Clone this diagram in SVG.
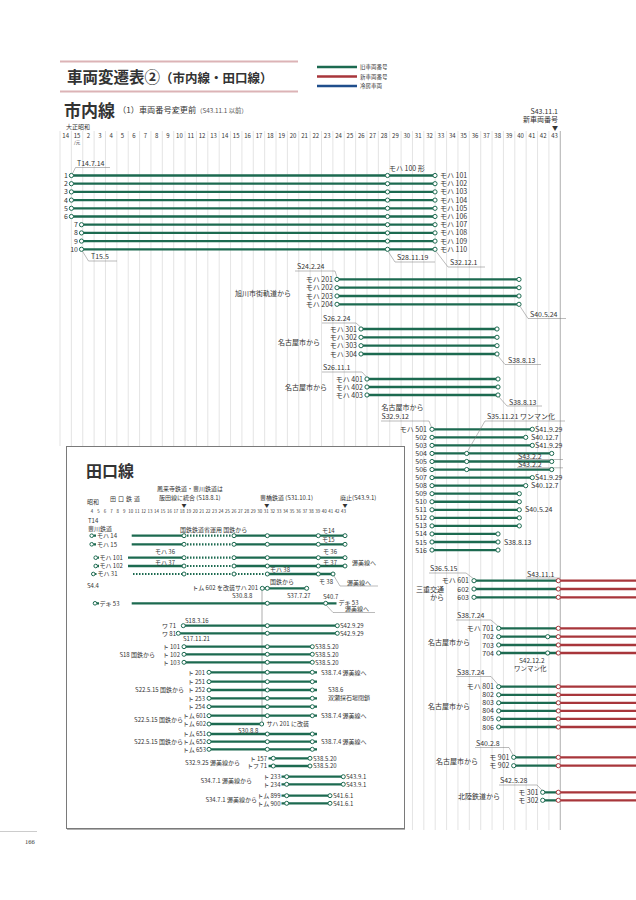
<svg xmlns="http://www.w3.org/2000/svg" width="636" height="900" viewBox="0 0 636 900">
<style>
text{font-family:"Noto Sans CJK JP","Noto Sans",sans-serif;fill:#333}
.s{font-size:7px}
.xs{font-size:6px}
.xxs{font-size:4.4px}
.e{text-anchor:end}
.m{text-anchor:middle}
.grid line{stroke:#d2d2d2;stroke-width:0.6}
.gl{stroke:#1c6a50;stroke-width:2.3;fill:none}
.gd{stroke:#1c6a50;stroke-width:2.2;stroke-dasharray:1.5 1.5;fill:none}
.rl{stroke:#a8363b;stroke-width:2.3;fill:none}
.c{fill:#fff;stroke:#1c6a50;stroke-width:1}
.cr{fill:#fff;stroke:#a8363b;stroke-width:1}
.ld{stroke:#777;stroke-width:0.5;fill:none}
</style>
<rect width="636" height="900" fill="#fff"/>

<g id="header">
<line x1="60" y1="61.5" x2="298" y2="61.5" stroke="#dcb3b6" stroke-width="2.2"/>
<line x1="60" y1="91.5" x2="298" y2="91.5" stroke="#dcb3b6" stroke-width="2.2"/>
<text x="67" y="83" style="font-size:15.5px;font-weight:700">車両変遷表②<tspan style="font-size:12.5px">（市内線・田口線）</tspan></text>
</g>
<g id="legend">
<line x1="317" y1="67" x2="357" y2="67" class="gl"/>
<line x1="317" y1="76.5" x2="357" y2="76.5" class="rl"/>
<line x1="317" y1="86" x2="357" y2="86" stroke="#1f4e8c" stroke-width="2.3"/>
<text x="360" y="69" style="font-size:5.5px">旧車両番号</text>
<text x="360" y="78.5" style="font-size:5.5px">新車両番号</text>
<text x="360" y="88" style="font-size:5.5px">冷房車両</text>
</g>

<g id="subtitle">
<text x="64" y="117" style="font-size:17px;font-weight:700">市内線</text>
<text x="118" y="113" style="font-size:8.2px">（1）車両番号変更前<tspan style="font-size:6.3px" fill="#555">（S43.11.1 以前）</tspan></text>
<text x="558" y="114" class="s e">S43.11.1</text>
<text x="558" y="122" class="s e">新車両番号</text>
<text x="555" y="130" class="m" style="font-size:6px">▼</text>
<text x="66" y="128.5" class="xs">大正昭和</text>
</g>

<g class="grid" id="grid">
<line x1="60" y1="131" x2="60" y2="446"/><line x1="71.37" y1="131" x2="71.37" y2="830"/><line x1="82.74" y1="131" x2="82.74" y2="830"/><line x1="94.11" y1="131" x2="94.11" y2="830"/><line x1="105.48" y1="131" x2="105.48" y2="830"/><line x1="116.85" y1="131" x2="116.85" y2="830"/><line x1="128.22" y1="131" x2="128.22" y2="830"/><line x1="139.59" y1="131" x2="139.59" y2="830"/><line x1="150.96" y1="131" x2="150.96" y2="830"/><line x1="162.33" y1="131" x2="162.33" y2="830"/><line x1="173.7" y1="131" x2="173.7" y2="830"/><line x1="185.07" y1="131" x2="185.07" y2="830"/><line x1="196.44" y1="131" x2="196.44" y2="830"/><line x1="207.81" y1="131" x2="207.81" y2="830"/><line x1="219.18" y1="131" x2="219.18" y2="830"/><line x1="230.55" y1="131" x2="230.55" y2="830"/><line x1="241.92" y1="131" x2="241.92" y2="830"/><line x1="253.29" y1="131" x2="253.29" y2="830"/><line x1="264.66" y1="131" x2="264.66" y2="830"/><line x1="276.03" y1="131" x2="276.03" y2="830"/><line x1="287.4" y1="131" x2="287.4" y2="830"/><line x1="298.77" y1="131" x2="298.77" y2="830"/><line x1="310.14" y1="131" x2="310.14" y2="830"/><line x1="321.51" y1="131" x2="321.51" y2="830"/><line x1="332.88" y1="131" x2="332.88" y2="830"/><line x1="344.25" y1="131" x2="344.25" y2="830"/><line x1="355.62" y1="131" x2="355.62" y2="830"/><line x1="366.99" y1="131" x2="366.99" y2="830"/><line x1="378.36" y1="131" x2="378.36" y2="830"/><line x1="389.73" y1="131" x2="389.73" y2="830"/><line x1="401.1" y1="131" x2="401.1" y2="830"/><line x1="412.47" y1="131" x2="412.47" y2="830"/><line x1="423.84" y1="131" x2="423.84" y2="830"/><line x1="435.21" y1="131" x2="435.21" y2="830"/><line x1="446.58" y1="131" x2="446.58" y2="830"/><line x1="457.95" y1="131" x2="457.95" y2="830"/><line x1="469.32" y1="131" x2="469.32" y2="830"/><line x1="480.69" y1="131" x2="480.69" y2="830"/><line x1="492.06" y1="131" x2="492.06" y2="830"/><line x1="503.43" y1="131" x2="503.43" y2="830"/><line x1="514.8" y1="131" x2="514.8" y2="830"/><line x1="526.17" y1="131" x2="526.17" y2="830"/><line x1="537.54" y1="131" x2="537.54" y2="830"/><line x1="548.91" y1="131" x2="548.91" y2="830"/>
<line x1="560.28" y1="131" x2="560.28" y2="830" style="stroke:#9a9a9a;stroke-width:0.8"/>
</g>

<g id="years">
<text y="138" class="xs m"><tspan x="65.7">14</tspan><tspan x="77.1">15</tspan><tspan x="88.4">2</tspan><tspan x="99.8">3</tspan><tspan x="111.2">4</tspan><tspan x="122.5">5</tspan><tspan x="133.9">6</tspan><tspan x="145.3">7</tspan><tspan x="156.6">8</tspan><tspan x="168">9</tspan><tspan x="179.4">10</tspan><tspan x="190.8">11</tspan><tspan x="202.1">12</tspan><tspan x="213.5">13</tspan><tspan x="224.9">14</tspan><tspan x="236.2">15</tspan><tspan x="247.6">16</tspan><tspan x="259">17</tspan><tspan x="270.3">18</tspan><tspan x="281.7">19</tspan><tspan x="293.1">20</tspan><tspan x="304.5">21</tspan><tspan x="315.8">22</tspan><tspan x="327.2">23</tspan><tspan x="338.6">24</tspan><tspan x="349.9">25</tspan><tspan x="361.3">26</tspan><tspan x="372.7">27</tspan><tspan x="384">28</tspan><tspan x="395.4">29</tspan><tspan x="406.8">30</tspan><tspan x="418.2">31</tspan><tspan x="429.5">32</tspan><tspan x="440.9">33</tspan><tspan x="452.3">34</tspan><tspan x="463.6">35</tspan><tspan x="475">36</tspan><tspan x="486.4">37</tspan><tspan x="497.7">38</tspan><tspan x="509.1">39</tspan><tspan x="520.5">40</tspan><tspan x="531.9">41</tspan><tspan x="543.2">42</tspan><tspan x="554.6">43</tspan></text>
<text x="77.1" y="144" class="m" style="font-size:4.5px">/元</text>
</g>

<g id="connectors">
<path class="gl" d="M71.4 175.5H435M71.4 183.7H435M71.4 191.9H435M71.4 200.1H435M71.4 208.3H435M71.4 216.5H435M81.5 224.7H435M81.5 232.9H435M81.5 241.1H435M81.5 249.3H435"/>
<path class="gl" d="M337 279.4H519M337 287.7H519M337 296H519M337 304.3H519"/>
<path class="gl" d="M361 329H497M361 337.3H497M361 345.7H497M361 354H497"/>
<path class="gl" d="M367 379H498M367 387H498M367 395H498"/>
<path class="gl" d="M432 429.3H532.3M432 437.35H525.7M432 445.4H532.3M432 453.45H551.7M432 461.5H551.7M432 469.55H551.7M432 477.6H532.3M432 485.65H525.7M432 493.7H519.3M432 501.75H519.3M432 509.8H519.3M432 517.85H519.3M432 525.9H519.3M432 533.95H498M432 542H498M432 550.05H498"/>
<path class="gl" d="M474 580.7H558.3M474 589H558.3M474 597.3H558.3M498.7 628.3H558.3M498.7 636.7H558.3M498.7 645H558.3M498.7 653H558.3M498.7 686.7H558.3M498.7 694.8H558.3M498.7 702.8H558.3M498.7 710.9H558.3M498.7 718.9H558.3M498.7 727H558.3M513.7 757.3H558.3M513.7 765.7H558.3M542.7 792.3H558.3M542.7 800.3H558.3"/>
<path class="rl" d="M558.3 580.7H636M558.3 589H636M558.3 597.3H636M558.3 628.3H636M558.3 636.7H636M558.3 645H636M558.3 653H636M558.3 686.7H636M558.3 694.8H636M558.3 702.8H636M558.3 710.9H636M558.3 718.9H636M558.3 727H636M558.3 757.3H636M558.3 765.7H636M558.3 792.3H636M558.3 800.3H636"/>
<path class="ld" d="M72.5 173.5L75.5 167.5H110"/>
<path class="ld" d="M82.5 251.3L88.5 261H117"/>
<path class="ld" d="M388 251.3L395 262H435"/>
<path class="ld" d="M436 251.3L448 267H485"/>
<path class="ld" d="M337 277.3L335 271H295"/>
<path class="ld" d="M520 306.3L528 318.5H566"/>
<path class="ld" d="M360.5 327L356 323H322"/>
<path class="ld" d="M498 356L505 364.5H541"/>
<path class="ld" d="M366.5 377L362 372H322"/>
<path class="ld" d="M499 397L507 406H542"/>
<path class="ld" d="M431.5 427.3L429 421H381"/>
<path class="ld" d="M467.5 451.4L485 421H565"/>
<path class="ld" d="M517 459.5H563M517 467.8H563"/>
<path class="ld" d="M473.5 578.7L466 573H429"/>
<path class="ld" d="M526 578H560"/>
<path class="ld" d="M498.2 626.3L491 620H456"/>
<path class="ld" d="M498.2 684.7L491 676.5H456"/>
<path class="ld" d="M513.2 755.3L509 747.5H475"/>
<path class="ld" d="M542.2 790.3L537 785H499"/>
</g>

<g id="nodes-100">
<text x="68" y="178" class="s e">1</text>
<text x="68" y="186.2" class="s e">2</text><text x="68" y="194.4" class="s e">3</text><text x="68" y="202.6" class="s e">4</text><text x="68" y="210.8" class="s e">5</text><text x="68" y="219" class="s e">6</text>
<text x="78" y="227.2" class="s e">7</text><text x="78" y="235.4" class="s e">8</text><text x="78" y="243.6" class="s e">9</text><text x="78" y="251.8" class="s e">10</text>
<g>
<circle class="c" cx="71.4" cy="175.5" r="2.1"/><circle class="c" cx="71.4" cy="183.7" r="2.1"/><circle class="c" cx="71.4" cy="191.9" r="2.1"/><circle class="c" cx="71.4" cy="200.1" r="2.1"/><circle class="c" cx="71.4" cy="208.3" r="2.1"/><circle class="c" cx="71.4" cy="216.5" r="2.1"/><circle class="c" cx="81.5" cy="224.7" r="2.1"/><circle class="c" cx="81.5" cy="232.9" r="2.1"/><circle class="c" cx="81.5" cy="241.1" r="2.1"/><circle class="c" cx="81.5" cy="249.3" r="2.1"/>
<circle class="c" cx="387.5" cy="175.5" r="2.1"/><circle class="c" cx="387.5" cy="183.7" r="2.1"/><circle class="c" cx="387.5" cy="191.9" r="2.1"/><circle class="c" cx="387.5" cy="200.1" r="2.1"/><circle class="c" cx="387.5" cy="208.3" r="2.1"/><circle class="c" cx="387.5" cy="216.5" r="2.1"/><circle class="c" cx="387.5" cy="224.7" r="2.1"/><circle class="c" cx="387.5" cy="232.9" r="2.1"/><circle class="c" cx="387.5" cy="241.1" r="2.1"/><circle class="c" cx="387.5" cy="249.3" r="2.1"/>
<circle class="c" cx="435" cy="175.5" r="2.1"/><circle class="c" cx="435" cy="183.7" r="2.1"/><circle class="c" cx="435" cy="191.9" r="2.1"/><circle class="c" cx="435" cy="200.1" r="2.1"/><circle class="c" cx="435" cy="208.3" r="2.1"/><circle class="c" cx="435" cy="216.5" r="2.1"/><circle class="c" cx="435" cy="224.7" r="2.1"/><circle class="c" cx="435" cy="232.9" r="2.1"/><circle class="c" cx="435" cy="241.1" r="2.1"/><circle class="c" cx="435" cy="249.3" r="2.1"/>
</g>
<text x="440" y="178" class="s">モハ 101</text><text x="440" y="186.2" class="s">モハ 102</text><text x="440" y="194.4" class="s">モハ 103</text><text x="440" y="202.6" class="s">モハ 104</text><text x="440" y="210.8" class="s">モハ 105</text><text x="440" y="219" class="s">モハ 106</text><text x="440" y="227.2" class="s">モハ 107</text><text x="440" y="235.4" class="s">モハ 108</text><text x="440" y="243.6" class="s">モハ 109</text><text x="440" y="251.8" class="s">モハ 110</text>
<text x="389" y="171" class="s">モハ 100 形</text>
<text x="77" y="165.5" class="s">T14.7.14</text>
<text x="91" y="259" class="s">T15.5</text>
<text x="397" y="260" class="s">S28.11.19</text>
<text x="450" y="265" class="s">S32.12.1</text>
</g>

<g id="nodes-200">
<circle class="c" cx="337" cy="279.4" r="2.1"/><circle class="c" cx="337" cy="287.7" r="2.1"/><circle class="c" cx="337" cy="296" r="2.1"/><circle class="c" cx="337" cy="304.3" r="2.1"/>
<circle class="c" cx="519" cy="279.4" r="2.1"/><circle class="c" cx="519" cy="287.7" r="2.1"/><circle class="c" cx="519" cy="296" r="2.1"/><circle class="c" cx="519" cy="304.3" r="2.1"/>
<text x="333" y="281.9" class="s e">モハ 201</text><text x="333" y="290.2" class="s e">モハ 202</text><text x="333" y="298.5" class="s e">モハ 203</text><text x="333" y="306.8" class="s e">モハ 204</text>
<text x="235" y="295.5" class="s">旭川市街軌道から</text>
<text x="297" y="269" class="s">S24.2.24</text>
<text x="530" y="316.8" class="s">S40.5.24</text>
</g>

<g id="nodes-300">
<circle class="c" cx="361" cy="329" r="2.1"/><circle class="c" cx="361" cy="337.3" r="2.1"/><circle class="c" cx="361" cy="345.7" r="2.1"/><circle class="c" cx="361" cy="354" r="2.1"/>
<circle class="c" cx="497" cy="329" r="2.1"/><circle class="c" cx="497" cy="337.3" r="2.1"/><circle class="c" cx="497" cy="345.7" r="2.1"/><circle class="c" cx="497" cy="354" r="2.1"/>
<text x="357" y="331.5" class="s e">モハ 301</text><text x="357" y="339.8" class="s e">モハ 302</text><text x="357" y="348.2" class="s e">モハ 303</text><text x="357" y="356.5" class="s e">モハ 304</text>
<text x="320" y="344.5" class="s e">名古屋市から</text>
<text x="323" y="321" class="s">S26.2.24</text>
<text x="508" y="363" class="s">S38.8.13</text>
</g>

<g id="nodes-400">
<circle class="c" cx="367" cy="379" r="2.1"/><circle class="c" cx="367" cy="387" r="2.1"/><circle class="c" cx="367" cy="395" r="2.1"/>
<circle class="c" cx="498" cy="379" r="2.1"/><circle class="c" cx="498" cy="387" r="2.1"/><circle class="c" cx="498" cy="395" r="2.1"/>
<text x="363" y="381.5" class="s e">モハ 401</text><text x="363" y="389.5" class="s e">モハ 402</text><text x="363" y="397.5" class="s e">モハ 403</text>
<text x="327" y="389.5" class="s e">名古屋市から</text>
<text x="323" y="370" class="s">S26.11.1</text>
<text x="509" y="404.5" class="s">S38.8.13</text>
</g>

<g id="nodes-500">
<circle class="c" cx="432" cy="429.3" r="2.1"/><circle class="c" cx="432" cy="437.35" r="2.1"/><circle class="c" cx="432" cy="445.4" r="2.1"/><circle class="c" cx="432" cy="453.45" r="2.1"/><circle class="c" cx="432" cy="461.5" r="2.1"/><circle class="c" cx="432" cy="469.55" r="2.1"/><circle class="c" cx="432" cy="477.6" r="2.1"/><circle class="c" cx="432" cy="485.65" r="2.1"/><circle class="c" cx="432" cy="493.7" r="2.1"/><circle class="c" cx="432" cy="501.75" r="2.1"/><circle class="c" cx="432" cy="509.8" r="2.1"/><circle class="c" cx="432" cy="517.85" r="2.1"/><circle class="c" cx="432" cy="525.9" r="2.1"/><circle class="c" cx="432" cy="533.95" r="2.1"/><circle class="c" cx="432" cy="542" r="2.1"/><circle class="c" cx="432" cy="550.05" r="2.1"/>
<circle class="c" cx="466.7" cy="453.45" r="2.1"/><circle class="c" cx="466.7" cy="461.5" r="2.1"/><circle class="c" cx="466.7" cy="469.55" r="2.1"/>
<circle class="c" cx="532.3" cy="429.3" r="2.1"/><circle class="c" cx="525.7" cy="437.35" r="2.1"/><circle class="c" cx="532.3" cy="445.4" r="2.1"/><circle class="c" cx="551.7" cy="453.45" r="2.1"/><circle class="c" cx="551.7" cy="461.5" r="2.1"/><circle class="c" cx="551.7" cy="469.55" r="2.1"/><circle class="c" cx="532.3" cy="477.6" r="2.1"/><circle class="c" cx="525.7" cy="485.65" r="2.1"/><circle class="c" cx="519.3" cy="493.7" r="2.1"/><circle class="c" cx="519.3" cy="501.75" r="2.1"/><circle class="c" cx="519.3" cy="509.8" r="2.1"/><circle class="c" cx="519.3" cy="517.85" r="2.1"/><circle class="c" cx="519.3" cy="525.9" r="2.1"/><circle class="c" cx="498" cy="533.95" r="2.1"/><circle class="c" cx="498" cy="542" r="2.1"/><circle class="c" cx="498" cy="550.05" r="2.1"/>
<text x="427" y="431.8" class="s e">モハ 501</text><text x="427" y="439.85" class="s e">502</text><text x="427" y="447.9" class="s e">503</text><text x="427" y="455.95" class="s e">504</text><text x="427" y="464" class="s e">505</text><text x="427" y="472.05" class="s e">506</text><text x="427" y="480.1" class="s e">507</text><text x="427" y="488.15" class="s e">508</text><text x="427" y="496.2" class="s e">509</text><text x="427" y="504.25" class="s e">510</text><text x="427" y="512.3" class="s e">511</text><text x="427" y="520.35" class="s e">512</text><text x="427" y="528.4" class="s e">513</text><text x="427" y="536.45" class="s e">514</text><text x="427" y="544.5" class="s e">515</text><text x="427" y="552.55" class="s e">516</text>
<text x="381.5" y="410" class="s">名古屋市から</text>
<text x="381.5" y="418.5" class="s">S32.9.12</text>
<text x="487" y="418.5" class="s">S35.11.21 ワンマン化</text>
<text x="535" y="431.8" class="s">S41.9.29</text><text x="531" y="439.85" class="s">S40.12.7</text><text x="535" y="447.9" class="s">S41.9.29</text>
<text x="518" y="459" class="s">S43.2.2</text><text x="518" y="467.3" class="s">S43.2.2</text>
<text x="535" y="480.1" class="s">S41.9.29</text><text x="531" y="488.15" class="s">S40.12.7</text>
<text x="525" y="512.3" class="s">S40.5.24</text>
<text x="504" y="544.5" class="s">S38.8.13</text>
</g>

<g id="nodes-600">
<circle class="c" cx="474" cy="580.7" r="2.1"/><circle class="c" cx="474" cy="589" r="2.1"/><circle class="c" cx="474" cy="597.3" r="2.1"/>
<circle class="cr" cx="558.3" cy="580.7" r="2.1"/><circle class="cr" cx="558.3" cy="589" r="2.1"/><circle class="cr" cx="558.3" cy="597.3" r="2.1"/>
<text x="469" y="583.2" class="s e">モハ 601</text><text x="469" y="591.5" class="s e">602</text><text x="469" y="599.8" class="s e">603</text>
<text x="416" y="591.5" class="s">三重交通</text><text x="430" y="599.8" class="s">から</text>
<text x="430" y="571" class="s">S36.5.15</text>
<text x="527" y="576.5" class="s">S43.11.1</text>
</g>

<g id="nodes-700">
<circle class="c" cx="498.7" cy="628.3" r="2.1"/><circle class="c" cx="498.7" cy="636.7" r="2.1"/><circle class="c" cx="498.7" cy="645" r="2.1"/><circle class="c" cx="498.7" cy="653" r="2.1"/>
<circle class="c" cx="547.7" cy="636.7" r="2.1"/><circle class="c" cx="547.7" cy="653" r="2.1"/>
<circle class="cr" cx="558.3" cy="628.3" r="2.1"/><circle class="cr" cx="558.3" cy="636.7" r="2.1"/><circle class="cr" cx="558.3" cy="645" r="2.1"/><circle class="cr" cx="558.3" cy="653" r="2.1"/>
<text x="494" y="630.8" class="s e">モハ 701</text><text x="494" y="639.2" class="s e">702</text><text x="494" y="647.5" class="s e">703</text><text x="494" y="655.5" class="s e">704</text>
<text x="428" y="644.5" class="s">名古屋市から</text>
<text x="457" y="618" class="s">S38.7.24</text>
<text x="519" y="663" style="font-size:6.5px">S42.12.2</text>
<text x="514" y="671" style="font-size:6.5px">ワンマン化</text>
</g>

<g id="nodes-800">
<circle class="c" cx="498.7" cy="686.7" r="2.1"/><circle class="c" cx="498.7" cy="694.8" r="2.1"/><circle class="c" cx="498.7" cy="702.8" r="2.1"/><circle class="c" cx="498.7" cy="710.9" r="2.1"/><circle class="c" cx="498.7" cy="718.9" r="2.1"/><circle class="c" cx="498.7" cy="727" r="2.1"/>
<circle class="cr" cx="558.3" cy="686.7" r="2.1"/><circle class="cr" cx="558.3" cy="694.8" r="2.1"/><circle class="cr" cx="558.3" cy="702.8" r="2.1"/><circle class="cr" cx="558.3" cy="710.9" r="2.1"/><circle class="cr" cx="558.3" cy="718.9" r="2.1"/><circle class="cr" cx="558.3" cy="727" r="2.1"/>
<text x="494" y="689.2" class="s e">モハ 801</text><text x="494" y="697.3" class="s e">802</text><text x="494" y="705.3" class="s e">803</text><text x="494" y="713.4" class="s e">804</text><text x="494" y="721.4" class="s e">805</text><text x="494" y="729.5" class="s e">806</text>
<text x="428" y="709.2" class="s">名古屋市から</text>
<text x="457" y="674.5" class="s">S38.7.24</text>
</g>

<g id="nodes-900">
<circle class="c" cx="513.7" cy="757.3" r="2.1"/><circle class="c" cx="513.7" cy="765.7" r="2.1"/>
<circle class="cr" cx="558.3" cy="757.3" r="2.1"/><circle class="cr" cx="558.3" cy="765.7" r="2.1"/>
<text x="509.5" y="759.8" class="s e">モ 901</text><text x="509.5" y="768.2" class="s e">モ 902</text>
<text x="436" y="764" class="s">名古屋市から</text>
<text x="476" y="745.5" class="s">S40.2.8</text>
</g>

<g id="nodes-mo300">
<circle class="c" cx="542.7" cy="792.3" r="2.1"/><circle class="c" cx="542.7" cy="800.3" r="2.1"/>
<circle class="cr" cx="558.3" cy="792.3" r="2.1"/><circle class="cr" cx="558.3" cy="800.3" r="2.1"/>
<text x="538.5" y="794.8" class="s e">モ 301</text><text x="538.5" y="802.8" class="s e">モ 302</text>
<text x="458" y="798.5" class="s">北陸鉄道から</text>
<text x="500" y="783" class="s">S42.5.28</text>
</g>

<g id="taguchi">
<rect x="66.5" y="446.5" width="338" height="382" fill="#fff" stroke="#7a7a7a" stroke-width="1"/>
<line x1="67" y1="829.5" x2="405" y2="829.5" stroke="#b0b0b0" stroke-width="1"/>
<text x="86" y="477" style="font-size:16px;font-weight:700">田口線</text>
<text x="87" y="503.5" class="xs">昭和</text>
<text x="110" y="500.5" class="xs" letter-spacing="2">田口鉄道</text>
<text x="157" y="490.5" class="xs">鳳来寺鉄道・豊川鉄道は</text>
<text x="159" y="500" class="xs">飯田線に統合 (S18.8.1)</text>
<text x="260" y="500" class="xs">豊橋鉄道 (S31.10.1)</text>
<text x="340" y="500" class="xs">廃止(S43.9.1)</text>
<text y="506.5" class="m" style="font-size:5px"><tspan x="184">▼</tspan><tspan x="266.7">▼</tspan><tspan x="345">▼</tspan></text>
<text y="512.5" class="xxs m"><tspan x="92">4</tspan><tspan x="98.45">5</tspan><tspan x="104.9">6</tspan><tspan x="111.35">7</tspan><tspan x="117.8">8</tspan><tspan x="124.25">9</tspan><tspan x="130.7">10</tspan><tspan x="137.15">11</tspan><tspan x="143.6">12</tspan><tspan x="150.05">13</tspan><tspan x="156.5">14</tspan><tspan x="162.95">15</tspan><tspan x="169.4">16</tspan><tspan x="175.85">17</tspan><tspan x="182.3">18</tspan><tspan x="188.75">19</tspan><tspan x="195.2">20</tspan><tspan x="201.65">21</tspan><tspan x="208.1">22</tspan><tspan x="214.55">23</tspan><tspan x="221">24</tspan><tspan x="227.45">25</tspan><tspan x="233.9">26</tspan><tspan x="240.35">27</tspan><tspan x="246.8">28</tspan><tspan x="253.25">29</tspan><tspan x="259.7">30</tspan><tspan x="266.15">31</tspan><tspan x="272.6">32</tspan><tspan x="279.05">33</tspan><tspan x="285.5">34</tspan><tspan x="291.95">35</tspan><tspan x="298.4">36</tspan><tspan x="304.85">37</tspan><tspan x="311.3">38</tspan><tspan x="317.75">39</tspan><tspan x="324.2">40</tspan><tspan x="330.65">41</tspan><tspan x="337.1">42</tspan><tspan x="343.55">43</tspan></text>
<text x="88" y="523" class="xs">T14</text>
<text x="88" y="531.2" class="xs">豊川鉄道</text>

<g id="taguchi-connectors">
<line x1="262" y1="590.5" x2="262" y2="722" stroke="#777" stroke-width="0.6"/>
<path class="gl" d="M93.5 535.7H96M131.7 535.7H184M234 535.7H345M93.5 544.3H96M131.7 544.3H184M234 544.3H345"/>
<path class="gd" d="M184 535.7H234M184 544.3H234"/>
<path class="gl" d="M97.5 557.7H99M128 557.7H184M234 557.7H345M97.5 566H99M128 566H184M234 566H345"/>
<path class="gd" d="M184 557.7H234M184 566H234"/>
<path class="gd" d="M95 574H97M133 574H267.3"/>
<path class="gl" d="M267.3 574H333"/>
<path class="gl" d="M262.3 588.3H306.7"/>
<path class="gl" d="M97 603.3H99M131.7 603.3H336.5"/>
<path class="gl" d="M183.3 625.7H337.3M178.3 633.3H337.3"/>
<path class="gl" d="M184 646.7H312.3M184 654.3H312.3M184 662.3H312.3"/>
<path class="gl" d="M209 672.3H317M209 681.7H317M209 690H317M209 698.3H317M209 706.7H317"/>
<path class="gl" d="M209 715.7H317M209 724H261.7M209 734H317M209 741.7H317M209 749.3H317"/>
<path class="gl" d="M268.5 758.3H310M268.5 766H310"/>
<path class="gl" d="M281.5 776.7H343.3M281.5 784.3H343.3M281.5 795.7H330M281.5 803.3H330"/>
<path class="ld" d="M334 576L340 586H378"/>
<path class="ld" d="M326.5 605.5L333 612.5H375"/>
</g>

<g id="taguchi-nodes">
<circle class="c" cx="91.7" cy="535.7" r="1.8"/><circle class="c" cx="91.7" cy="544.3" r="1.8"/><circle class="c" cx="95.7" cy="557.7" r="1.8"/><circle class="c" cx="95.7" cy="566" r="1.8"/><circle class="c" cx="93.3" cy="574" r="1.8"/><circle class="c" cx="95" cy="603.3" r="1.8"/>
<circle class="c" cx="184" cy="535.7" r="2"/><circle class="c" cx="234" cy="535.7" r="2"/><circle class="c" cx="267.3" cy="535.7" r="2"/><circle class="c" cx="318.3" cy="535.7" r="2"/><circle class="c" cx="345" cy="535.7" r="2"/>
<circle class="c" cx="184" cy="544.3" r="2"/><circle class="c" cx="234" cy="544.3" r="2"/><circle class="c" cx="267.3" cy="544.3" r="2"/><circle class="c" cx="318.3" cy="544.3" r="2"/><circle class="c" cx="345" cy="544.3" r="2"/>
<circle class="c" cx="184" cy="557.7" r="2"/><circle class="c" cx="234" cy="557.7" r="2"/><circle class="c" cx="267.3" cy="557.7" r="2"/><circle class="c" cx="318.3" cy="557.7" r="2"/><circle class="c" cx="345" cy="557.7" r="2"/>
<circle class="c" cx="184" cy="566" r="2"/><circle class="c" cx="234" cy="566" r="2"/><circle class="c" cx="267.3" cy="566" r="2"/><circle class="c" cx="318.3" cy="566" r="2"/><circle class="c" cx="345" cy="566" r="2"/>
<circle class="c" cx="184" cy="574" r="2"/><circle class="c" cx="234" cy="574" r="2"/><circle class="c" cx="267.3" cy="574" r="2"/><circle class="c" cx="318.3" cy="574" r="2"/><circle class="c" cx="333" cy="574" r="2"/>
<circle class="c" cx="262.3" cy="588.3" r="2"/><circle class="c" cx="267.3" cy="588.3" r="2"/><circle class="c" cx="306.7" cy="588.3" r="2"/>
<circle class="c" cx="267.3" cy="603.3" r="2"/><circle class="c" cx="325.7" cy="603.3" r="2"/>
<circle class="c" cx="183.3" cy="625.7" r="2"/><circle class="c" cx="267.3" cy="625.7" r="2"/><circle class="c" cx="337.3" cy="625.7" r="2"/>
<circle class="c" cx="178.3" cy="633.3" r="2"/><circle class="c" cx="267.3" cy="633.3" r="2"/><circle class="c" cx="337.3" cy="633.3" r="2"/>
<circle class="c" cx="184" cy="646.7" r="2"/><circle class="c" cx="267.3" cy="646.7" r="2"/><circle class="c" cx="312.3" cy="646.7" r="2"/>
<circle class="c" cx="184" cy="654.3" r="2"/><circle class="c" cx="267.3" cy="654.3" r="2"/><circle class="c" cx="312.3" cy="654.3" r="2"/>
<circle class="c" cx="184" cy="662.3" r="2"/><circle class="c" cx="267.3" cy="662.3" r="2"/><circle class="c" cx="312.3" cy="662.3" r="2"/>
<circle class="c" cx="209" cy="672.3" r="2"/><circle class="c" cx="267.3" cy="672.3" r="2"/><circle class="c" cx="312.3" cy="672.3" r="2"/>
<circle class="c" cx="209" cy="681.7" r="2"/><circle class="c" cx="267.3" cy="681.7" r="2"/><circle class="c" cx="312.3" cy="681.7" r="2"/>
<circle class="c" cx="209" cy="690" r="2"/><circle class="c" cx="267.3" cy="690" r="2"/><circle class="c" cx="312.3" cy="690" r="2"/>
<circle class="c" cx="209" cy="698.3" r="2"/><circle class="c" cx="267.3" cy="698.3" r="2"/><circle class="c" cx="312.3" cy="698.3" r="2"/>
<circle class="c" cx="209" cy="706.7" r="2"/><circle class="c" cx="267.3" cy="706.7" r="2"/><circle class="c" cx="312.3" cy="706.7" r="2"/>
<circle class="c" cx="209" cy="715.7" r="2"/><circle class="c" cx="267.3" cy="715.7" r="2"/><circle class="c" cx="312.3" cy="715.7" r="2"/>
<circle class="c" cx="209" cy="724" r="2"/><circle class="c" cx="261.7" cy="724" r="2"/>
<circle class="c" cx="209" cy="734" r="2"/><circle class="c" cx="267.3" cy="734" r="2"/><circle class="c" cx="312.3" cy="734" r="2"/>
<circle class="c" cx="209" cy="741.7" r="2"/><circle class="c" cx="267.3" cy="741.7" r="2"/><circle class="c" cx="312.3" cy="741.7" r="2"/>
<circle class="c" cx="209" cy="749.3" r="2"/><circle class="c" cx="267.3" cy="749.3" r="2"/><circle class="c" cx="312.3" cy="749.3" r="2"/>
<circle class="c" cx="273.3" cy="758.3" r="2"/><circle class="c" cx="310" cy="758.3" r="2"/>
<circle class="c" cx="273.3" cy="766" r="2"/><circle class="c" cx="310" cy="766" r="2"/>
<circle class="c" cx="286.7" cy="776.7" r="2"/><circle class="c" cx="343.3" cy="776.7" r="2"/>
<circle class="c" cx="286.7" cy="784.3" r="2"/><circle class="c" cx="343.3" cy="784.3" r="2"/>
<circle class="c" cx="286.7" cy="795.7" r="2"/><circle class="c" cx="330" cy="795.7" r="2"/>
<circle class="c" cx="286.7" cy="803.3" r="2"/><circle class="c" cx="330" cy="803.3" r="2"/>
</g>

<g id="taguchi-labels">
<text x="97" y="538" class="xs">モハ 14</text>
<text x="97" y="546.6" class="xs">モハ 15</text>
<text x="99.5" y="560" class="xs">モハ 101</text>
<text x="99.5" y="568.3" class="xs">モハ 102</text>
<text x="97.5" y="576.3" class="xs">モハ 31</text>
<text x="99.5" y="605.6" class="xs">デキ 53</text>
<text x="180" y="531.5" class="xs">国鉄鉄道省運用 国鉄から</text>
<text x="322" y="533" class="xs">モ14</text>
<text x="322" y="541.8" class="xs">モ15</text>
<text x="155" y="554" class="xs">モハ 36</text>
<text x="155" y="564.5" class="xs">モハ 37</text>
<text x="323" y="554" class="xs">モ 36</text>
<text x="323" y="564.5" class="xs">モ 37</text>
<text x="352" y="565" class="xs">渥美線へ</text>
<text x="87" y="587.5" class="xs">S4.4</text>
<text x="270" y="572" class="xs">モハ 38</text>
<text x="270" y="584" class="xs">国鉄から</text>
<text x="319" y="584" class="xs">モ 38</text>
<text x="347" y="584.8" class="xs">渥美線へ</text>
<text x="258" y="590.4" class="xs e">トム 602 を改装サハ 201</text>
<text x="232" y="598" class="xs">S30.8.8</text>
<text x="287" y="598" class="xs">S37.7.27</text>
<text x="323" y="598.6" class="xs">S40.7</text>
<text x="338.5" y="605.2" class="xs">デキ 53</text>
<text x="345" y="611.3" class="xs">渥美線へ</text>
<text x="185" y="623" class="xs">S18.3.16</text>
<text x="176" y="628" class="xs e">ワ 71</text>
<text x="176" y="635.6" class="xs e">ワ 81</text>
<text x="340" y="628" class="xs">S42.9.29</text>
<text x="340" y="635.6" class="xs">S42.9.29</text>
<text x="183" y="640.6" class="xs">S17.11.21</text>
<text x="180" y="649" class="xs e">ト 101</text>
<text x="180" y="656.6" class="xs e">ト 102</text>
<text x="180" y="664.6" class="xs e">ト 103</text>
<text x="155" y="656.6" class="xs e">S18 国鉄から</text>
<text x="315" y="649" class="xs">S38.5.20</text>
<text x="315" y="656.6" class="xs">S38.5.20</text>
<text x="315" y="664.6" class="xs">S38.5.20</text>
<text x="205" y="674.6" class="xs e">ト 201</text>
<text x="205" y="684" class="xs e">ト 251</text>
<text x="205" y="692.3" class="xs e">ト 252</text>
<text x="205" y="700.6" class="xs e">ト 253</text>
<text x="205" y="709" class="xs e">ト 254</text>
<text x="184" y="692.3" class="xs e">S22.5.15 国鉄から</text>
<text x="321" y="674.6" class="xs">S38.7.4 渥美線へ</text>
<text x="328" y="692" class="xs">S38.6</text>
<text x="328" y="700.4" class="xs">双瀬採石場閉鎖</text>
<text x="206" y="718" class="xs e">トム 601</text>
<text x="206" y="726.3" class="xs e">トム 602</text>
<text x="183" y="722.3" class="xs e">S22.5.15 国鉄から</text>
<text x="321" y="718" class="xs">S38.7.4 渥美線へ</text>
<text x="266.5" y="726.3" class="xs">サハ 201 に改装</text>
<text x="238" y="732.8" class="xs">S30.8.8</text>
<text x="206" y="736.3" class="xs e">トム 651</text>
<text x="206" y="744" class="xs e">トム 652</text>
<text x="206" y="751.6" class="xs e">トム 653</text>
<text x="183" y="744" class="xs e">S22.5.15 国鉄から</text>
<text x="321" y="744" class="xs">S38.7.4 渥美線へ</text>
<text x="267" y="760.6" class="xs e">ト 157</text>
<text x="267" y="768.3" class="xs e">トフ 71</text>
<text x="240" y="765" class="xs e">S32.9.25 渥美線から</text>
<text x="313" y="760.6" class="xs">S38.5.20</text>
<text x="313" y="768.3" class="xs">S38.5.20</text>
<text x="280.5" y="779" class="xs e">ト 233</text>
<text x="280.5" y="786.6" class="xs e">ト 234</text>
<text x="252" y="783" class="xs e">S34.7.1 渥美線から</text>
<text x="346" y="779" class="xs">S43.9.1</text>
<text x="346" y="786.6" class="xs">S43.9.1</text>
<text x="280.5" y="798" class="xs e">トム 899</text>
<text x="280.5" y="805.6" class="xs e">トム 900</text>
<text x="257" y="801.8" class="xs e">S34.7.1 渥美線から</text>
<text x="333" y="798" class="xs">S41.6.1</text>
<text x="333" y="805.6" class="xs">S41.6.1</text>
</g>
</g>

<g id="page">
<line x1="0" y1="831.5" x2="37" y2="831.5" stroke="#aaa" stroke-width="0.6"/>
<text x="25" y="844" style="font-size:6.5px;font-family:'Liberation Serif',serif" fill="#555">166</text>
</g>
</svg>
